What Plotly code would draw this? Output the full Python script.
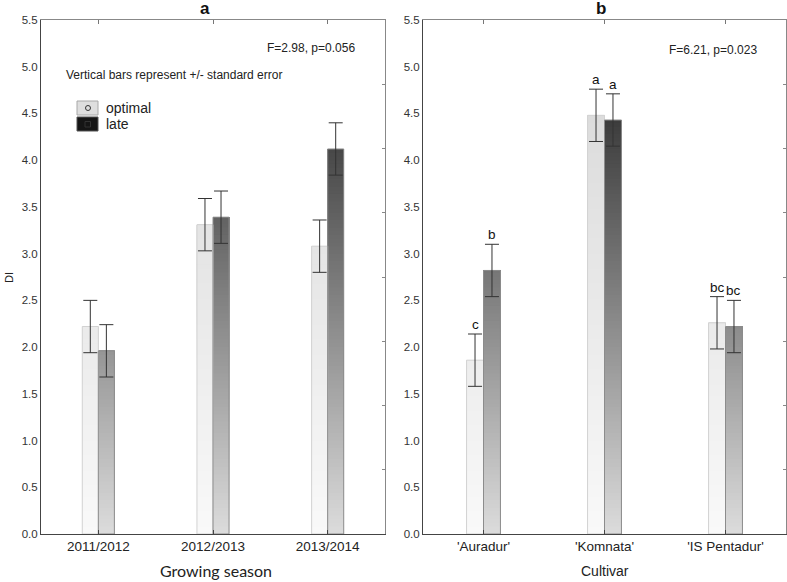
import plotly.graph_objects as go
import numpy as np

# ---------------- data ----------------
seasons = ["2011/2012", "2012/2013", "2013/2014"]
season_optimal = [2.22, 3.31, 3.08]
season_late = [1.96, 3.39, 4.12]
season_optimal_se = [0.28, 0.28, 0.28]
season_late_se = [0.28, 0.28, 0.28]

cultivars = ["'Auradur'", "'Komnata'", "'IS Pentadur'"]
cultivar_optimal = [1.86, 4.48, 2.26]
cultivar_late = [2.82, 4.43, 2.22]
cultivar_optimal_se = [0.28, 0.28, 0.28]
cultivar_late_se = [0.28, 0.28, 0.28]
cultivar_optimal_letters = ["c", "a", "bc"]
cultivar_late_letters = ["b", "a", "bc"]

stat_a = "F=2.98, p=0.056"
stat_b = "F=6.21, p=0.023"
y_ticks = [0.0, 0.5, 1.0, 1.5, 2.0, 2.5, 3.0, 3.5, 4.0, 4.5, 5.0, 5.5]

# ---------------- style ----------------
FONT = "Liberation Sans, Arial, sans-serif"
BW = 0.14
STEP = 0.04
W, H = 787, 582


def gray(v):
    v = int(max(0, min(255, round(v))))
    return f"rgb({v},{v},{v})"


def opt_color(y):
    return gray(249 - 6.5 * y)


def late_color(y):
    return gray(220 - 36.0 * y)


def gradient_bar(values, offset, colorfn, xa, ya):
    xs, bases, hs, cols = [], [], [], []
    for i, v in enumerate(values):
        n = int(np.ceil(v / STEP))
        for k in range(n):
            b = k * STEP
            xs.append(i)
            bases.append(b)
            hs.append(v - b)
            cols.append(colorfn(b + STEP / 2))
    return go.Bar(x=xs, y=hs, base=bases, offset=offset, width=BW,
                  marker=dict(color=cols, line=dict(width=0)),
                  xaxis=xa, yaxis=ya, showlegend=False, hoverinfo="skip")


def outline_bar(values, offset, lc, xa, ya):
    return go.Bar(x=list(range(len(values))), y=values, offset=offset, width=BW,
                  marker=dict(color="rgba(0,0,0,0)", line=dict(color=lc, width=1)),
                  xaxis=xa, yaxis=ya, showlegend=False, hoverinfo="skip")


def err_points(values, se, dx, symbol, xa, ya):
    return go.Scatter(x=[i + dx for i in range(len(values))], y=values, mode="markers",
                      marker=dict(symbol=symbol, size=7, color="rgba(0,0,0,0)",
                                  line=dict(color="#333", width=1)),
                      error_y=dict(type="data", array=se, visible=True,
                                   color="#333", thickness=1, width=7),
                      xaxis=xa, yaxis=ya, showlegend=False, hoverinfo="skip")


fig = go.Figure()
for (opt, late, ose, lse, xa, ya) in [
    (season_optimal, season_late, season_optimal_se, season_late_se, "x", "y"),
    (cultivar_optimal, cultivar_late, cultivar_optimal_se, cultivar_late_se, "x2", "y2"),
]:
    fig.add_trace(gradient_bar(opt, -BW, opt_color, xa, ya))
    fig.add_trace(gradient_bar(late, 0.0, late_color, xa, ya))
    fig.add_trace(outline_bar(opt, -BW, "#d2d2d2", xa, ya))
    fig.add_trace(outline_bar(late, 0.0, "#8c8c8c", xa, ya))
    fig.add_trace(err_points(opt, ose, -BW / 2, "circle-open", xa, ya))
    fig.add_trace(err_points(late, lse, BW / 2, "square-open", xa, ya))

xd1 = [41 / W, 385 / W]
xd2 = [423 / W, 786 / W]
yd = [(H - 534) / H, (H - 20) / H]

axis_common = dict(showgrid=False, zeroline=False, showline=True, linecolor="#444",
                   linewidth=1, mirror=False, automargin=False)
xcommon = dict(axis_common, range=[-0.5, 2.5], tickvals=[0, 1, 2], ticks="inside",
               ticklen=4, tickcolor="#444",
               tickfont=dict(family=FONT, size=13.5, color="#222"))
ycommon = dict(axis_common, range=[0, 5.5], tickvals=y_ticks,
               ticktext=[f"{t:.1f}" for t in y_ticks], ticks="",
               tickfont=dict(family=FONT, size=11.5, color="#333"))
frame_x = dict(range=[-0.5, 2.5], side="top", tickvals=[0, 1, 2], showticklabels=False,
               ticks="inside", ticklen=4, tickcolor="#777", showline=True, linecolor="#888",
               showgrid=False, zeroline=False, automargin=False)
frame_y = dict(range=[0, 5.5], side="right", dtick=5.5 / 8, tick0=0, showticklabels=False,
               ticks="inside", ticklen=3, tickcolor="#888", showline=True, linecolor="#888",
               showgrid=False, zeroline=False, automargin=False)

fig.update_layout(
    template="none",
    width=W, height=H, margin=dict(l=0, r=0, t=0, b=0, pad=0, autoexpand=False),
    paper_bgcolor="white", plot_bgcolor="white",
    barmode="overlay", showlegend=False,
    xaxis=dict(xcommon, domain=xd1, ticktext=seasons, anchor="y"),
    yaxis=dict(ycommon, domain=yd, anchor="x"),
    xaxis2=dict(xcommon, domain=xd2, ticktext=cultivars, anchor="y2"),
    yaxis2=dict(ycommon, domain=yd, anchor="x2"),
    xaxis3=dict(frame_x, domain=xd1, overlaying="x", anchor="y"),
    xaxis4=dict(frame_x, domain=xd2, overlaying="x2", anchor="y2"),
    yaxis3=dict(frame_y, domain=yd, overlaying="y", anchor="x"),
    yaxis4=dict(frame_y, domain=yd, overlaying="y2", anchor="x2"),
)
# dummy traces so overlay axes render
fig.add_trace(go.Scatter(x=[None], y=[None], xaxis="x3", yaxis="y3", showlegend=False))
fig.add_trace(go.Scatter(x=[None], y=[None], xaxis="x4", yaxis="y4", showlegend=False))


def pann(text, px, py, size, xanchor="center", family=FONT, angle=0, color="#222"):
    return dict(text=text, x=px / W, y=1 - py / H, xref="paper", yref="paper",
                xanchor=xanchor, yanchor="middle", showarrow=False, textangle=angle,
                font=dict(family=family, size=size, color=color))


ann = [
    pann("<b>a</b>", 205, 9, 17, color="#111"),
    pann("<b>b</b>", 601, 9, 17, color="#111"),
    pann(stat_a, 357, 48, 12, "right"),
    pann(stat_b, 759, 50, 12, "right"),
    pann("Vertical bars represent +/- standard error", 64, 75, 12, "left"),
    pann("optimal", 104, 108, 14, "left"),
    pann("late", 104, 124, 14, "left"),
    pann("Growing season", 216, 570, 16, family="Lato, sans-serif"),
    pann("Cultivar", 605, 571, 14),
    pann("DI", 9, 278, 11, angle=-90),
]
# significance letters
for vals, se, letters, dx in [
    (cultivar_optimal, cultivar_optimal_se, cultivar_optimal_letters, -BW / 2),
    (cultivar_late, cultivar_late_se, cultivar_late_letters, BW / 2),
]:
    for i, (v, s, t) in enumerate(zip(vals, se, letters)):
        ann.append(dict(text=t, x=i + dx, y=v + s, xref="x2", yref="y2",
                        xanchor="center", yanchor="bottom", yshift=0, showarrow=False,
                        font=dict(family=FONT, size=13.5, color="#111")))
fig.update_layout(annotations=ann)

# legend swatches
shapes = [
    dict(type="rect", xref="paper", yref="paper", x0=77 / W, x1=98 / W,
         y0=1 - 115 / H, y1=1 - 101 / H, fillcolor="#dedede", line=dict(color="#a8a8a8", width=1)),
    dict(type="circle", xref="paper", yref="paper", x0=85.5 / W, x1=90.5 / W,
         y0=1 - 110.5 / H, y1=1 - 105.5 / H, fillcolor="rgba(0,0,0,0)",
         line=dict(color="#333", width=1)),
    dict(type="rect", xref="paper", yref="paper", x0=77 / W, x1=98 / W,
         y0=1 - 131 / H, y1=1 - 117 / H, fillcolor="#151515", line=dict(color="#555", width=1)),
    dict(type="rect", xref="paper", yref="paper", x0=85 / W, x1=90.5 / W,
         y0=1 - 127 / H, y1=1 - 121.5 / H, fillcolor="rgba(0,0,0,0)",
         line=dict(color="#333", width=1)),
]
fig.update_layout(shapes=shapes)

fig.write_html("out.html", config={"displayModeBar": False},
               post_script="document.body.style.margin='0';document.body.style.overflow='hidden';")
